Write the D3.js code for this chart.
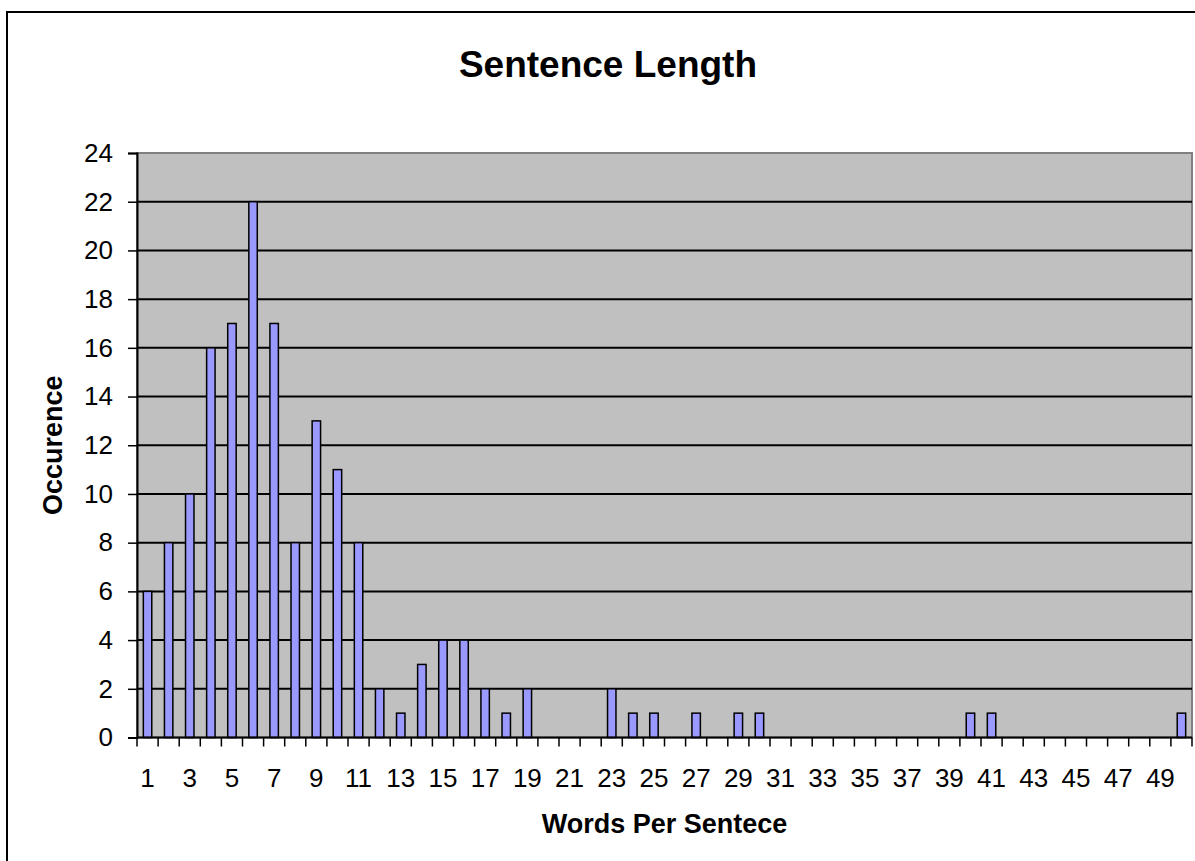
<!DOCTYPE html>
<html>
<head>
<meta charset="utf-8">
<script src="https://cdn.jsdelivr.net/npm/d3@7"></script>
<style>
  body { margin: 0; background: #fff; }
  svg text { font-family: "Liberation Sans", Arial, sans-serif; }
</style>
</head>
<body>
<div id="chart"></div>
<script>
// words per sentence (1..50) and how often each occurs
var lengths = d3.range(1, 51);
var counts = [6, 8, 10, 16, 17, 22, 17, 8, 13, 11,
              8, 2, 1, 3, 4, 4, 2, 1, 2, 0,
              0, 0, 2, 1, 1, 0, 1, 0, 1, 1,
              0, 0, 0, 0, 0, 0, 0, 0, 0, 1,
              1, 0, 0, 0, 0, 0, 0, 0, 0, 1];
var yTicks = [0, 2, 4, 6, 8, 10, 12, 14, 16, 18, 20, 22, 24];
var xLabels = lengths.filter(function (d) { return d % 2 === 1; });

var W = 1195, H = 861;
var plot = { left: 137, right: 1192, top: 153, bottom: 737.5 };

var svg = d3.select("#chart").append("svg")
  .attr("width", W)
  .attr("height", H);

// outer chart border (right/bottom run off the page)
svg.append("rect")
  .attr("x", 7).attr("y", 12)
  .attr("width", 1210).attr("height", 870)
  .attr("fill", "#fff")
  .attr("stroke", "#000")
  .attr("stroke-width", 2);

var x = d3.scaleBand()
  .domain(lengths)
  .range([plot.left, plot.right])
  .padding(0);

var y = d3.scaleLinear()
  .domain([0, 24])
  .range([plot.bottom, plot.top]);

// plot background
svg.append("rect")
  .attr("x", plot.left).attr("y", plot.top)
  .attr("width", plot.right - plot.left)
  .attr("height", plot.bottom - plot.top)
  .attr("fill", "#c0c0c0")
  .attr("stroke", "#808080")
  .attr("stroke-width", 2);

// gridlines
svg.append("g").selectAll("line")
  .data(yTicks.filter(function (d) { return d > 0 && d < 24; }))
  .enter().append("line")
  .attr("x1", plot.left).attr("x2", plot.right)
  .attr("y1", function (d) { return y(d); })
  .attr("y2", function (d) { return y(d); })
  .attr("stroke", "#000")
  .attr("stroke-width", 2);

// bars
var bw = x.bandwidth() * 0.4;
svg.append("g").selectAll("rect")
  .data(counts.map(function (c, i) { return { len: lengths[i], n: c }; })
    .filter(function (d) { return d.n > 0; }))
  .enter().append("rect")
  .attr("x", function (d) { return x(d.len) + (x.bandwidth() - bw) / 2; })
  .attr("y", function (d) { return y(d.n); })
  .attr("width", bw)
  .attr("height", function (d) { return y(0) - y(d.n); })
  .attr("fill", "#9999ff")
  .attr("stroke", "#000")
  .attr("stroke-width", 1.5);

// y axis
var yAxis = svg.append("g")
  .attr("transform", "translate(" + plot.left + ",0)")
  .call(d3.axisLeft(y).tickValues(yTicks).tickSize(9).tickPadding(15));
yAxis.select(".domain").attr("stroke", "#000").attr("stroke-width", 2);
yAxis.selectAll(".tick line").attr("stroke", "#000").attr("stroke-width", 1.5);
yAxis.selectAll(".tick text")
  .attr("font-size", 26)
  .attr("font-family", "Liberation Sans, Arial, sans-serif")
  .attr("fill", "#000");

// x axis line + ticks on category boundaries
svg.append("line")
  .attr("x1", plot.left).attr("x2", plot.right)
  .attr("y1", y(0)).attr("y2", y(0))
  .attr("stroke", "#000")
  .attr("stroke-width", 2);

var bounds = lengths.map(function (d) { return x(d); }).concat([x.range()[1]]);
svg.append("g").selectAll("line")
  .data(bounds)
  .enter().append("line")
  .attr("x1", function (d) { return d; })
  .attr("x2", function (d) { return d; })
  .attr("y1", y(0)).attr("y2", y(0) + 9)
  .attr("stroke", "#000")
  .attr("stroke-width", 1.5);

svg.append("g").selectAll("text")
  .data(xLabels)
  .enter().append("text")
  .attr("x", function (d) { return x(d) + x.bandwidth() / 2; })
  .attr("y", 787)
  .attr("text-anchor", "middle")
  .attr("font-size", 26)
  .text(function (d) { return d; });

// titles
svg.append("text")
  .attr("x", 608).attr("y", 77)
  .attr("text-anchor", "middle")
  .attr("font-size", 37)
  .attr("font-weight", "bold")
  .text("Sentence Length");

svg.append("text")
  .attr("x", (plot.left + plot.right) / 2).attr("y", 833)
  .attr("text-anchor", "middle")
  .attr("font-size", 27)
  .attr("font-weight", "bold")
  .text("Words Per Sentece");

svg.append("text")
  .attr("transform", "translate(62," + (plot.top + plot.bottom) / 2 + ") rotate(-90)")
  .attr("text-anchor", "middle")
  .attr("font-size", 27)
  .attr("font-weight", "bold")
  .text("Occurence");
</script>
</body>
</html>
